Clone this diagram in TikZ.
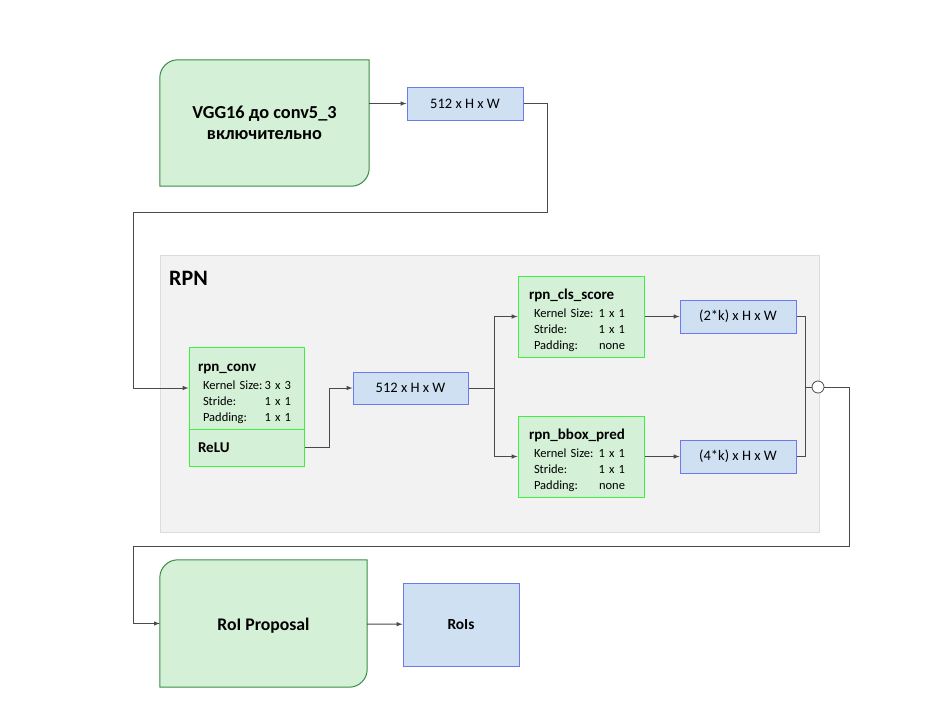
\documentclass[tikz,border=0pt]{standalone}
\usepackage{fontspec}
\setmainfont{Carlito}
\usepackage{tikz}
\usepackage{xcolor}
\usetikzlibrary{calc,backgrounds}

\definecolor{boxgreen}{HTML}{D4F0D6}
\definecolor{darkgreen}{HTML}{3C8A48}
\definecolor{brightgreen}{HTML}{40F040}
\definecolor{boxblue}{HTML}{CFE0F3}
\definecolor{blueline}{HTML}{6E78F0}
\definecolor{linegray}{HTML}{4A4A4A}
\definecolor{rpnfill}{HTML}{F2F2F2}
\definecolor{rpnline}{HTML}{DCDCDC}

% строка параметров слоя
\newcommand{\param}[3][62pt]{\hspace*{5pt}\makebox[#1][l]{#2}\makebox[26pt][r]{#3}}
\newcommand{\ltitle}[1]{{\fontsize{15}{16}\selectfont\bfseries\rule{0pt}{19pt}#1}}

\begin{document}
\begin{tikzpicture}[
		x=1pt,y=-1pt,
		line/.style={draw=linegray,line width=1pt},
		arrow/.style={line,->,>=latex},
		fmap/.style={draw=blueline,fill=boxblue,line width=1pt,minimum width=116pt,minimum height=33pt,font=\fontsize{14.5}{16}\selectfont},
		layer/.style={draw=brightgreen,fill=boxgreen,line width=1pt,align=left,minimum width=115pt,text width=97pt,inner xsep=9pt,font=\fontsize{12.5}{16}\selectfont},
		stage/.style={inner sep=0pt,align=center,font=\fontsize{18.3}{21}\selectfont\bfseries},
		stageline/.style={draw=darkgreen,fill=boxgreen,line width=1pt}
	]
		\useasboundingbox (0,0) rectangle (947,710);

		% RPN
		\node[draw=rpnline,fill=rpnfill,line width=1pt,minimum width=659pt,minimum height=277pt] (rpn) at (489.5,393.5) {};
		\node[anchor=west,inner sep=0pt,font=\fontsize{22}{24}\selectfont\bfseries] (rpnlabel) at (169,278) {RPN};

		% VGG16
		\node[stage,minimum width=209pt,minimum height=126pt] (vgg) at (264.5,123) {VGG16 до conv5\_3\\включительно};
		\node[fmap] (fmap1) at (465,103.5) {512 x H x W};

		% rpn_conv + ReLU
		\node[layer,minimum height=82pt] (conv) at (246.5,388) {\ltitle{rpn\_conv}\\[2pt]
			\param{Kernel Size:}{3 x 3}\\ \param{Stride:}{1 x 1}\\ \param{Padding:}{1 x 1}};
		\node[layer,minimum height=37pt] (relu) at (246.5,447.5) {{\fontsize{15}{16}\selectfont\bfseries ReLU}};
		\node[fmap,minimum width=115pt,minimum height=32pt] (fmap2) at (410.5,388) {512 x H x W};

		% две ветки
		\node[layer,minimum width=126pt,text width=104pt,inner xsep=11pt,minimum height=81pt] (cls) at (581,316.5) {\ltitle{rpn\_cls\_score}\\[2pt]
			\param[65pt]{Kernel Size:}{1 x 1}\\ \param[65pt]{Stride:}{1 x 1}\\ \param[65pt]{Padding:}{none}};
		\node[layer,minimum width=126pt,text width=104pt,inner xsep=11pt,minimum height=81pt] (bbox) at (581,456.5) {\ltitle{rpn\_bbox\_pred}\\[2pt]
			\param[65pt]{Kernel Size:}{1 x 1}\\ \param[65pt]{Stride:}{1 x 1}\\ \param[65pt]{Padding:}{none}};
		\node[fmap] (out2k) at (738,316.5) {(2*k) x H x W};
		\node[fmap] (out4k) at (738,456.5) {(4*k) x H x W};
		\node[circle,draw=linegray,fill=white,line width=0.8pt,minimum size=12pt,inner sep=0pt] (join) at (818,387) {};

		% RoI Proposal
		\node[stage,minimum width=207pt,minimum height=127pt,font=\fontsize{17.7}{20}\selectfont\bfseries] (roiprop) at (263.5,623.5) {\rule{0pt}{17pt}RoI Proposal};
		\node[fmap,minimum height=83pt,font=\fontsize{15.4}{17}\selectfont\bfseries] (rois) at (461,624.5) {RoIs};

		% закругления
		\begin{scope}[on background layer]
			\draw[stageline] (vgg.south west) -- ($(vgg.north west)+(0,18)$) arc[start angle=180,end angle=90,radius=18pt] -- (vgg.north east) -- ($(vgg.south east)+(0,-18)$) arc[start angle=0,end angle=-90,radius=18pt] -- cycle;
			\draw[stageline] (roiprop.south west) -- ($(roiprop.north west)+(0,18)$) arc[start angle=180,end angle=90,radius=18pt] -- (roiprop.north east) -- ($(roiprop.south east)+(0,-18)$) arc[start angle=0,end angle=-90,radius=18pt] -- cycle;
		\end{scope}

		% точки изгиба
		\coordinate (b1) at (547,212);
		\coordinate (b2) at (133,212);
		\coordinate (split) at (494,388);
		\coordinate (merge) at (805,387);
		\coordinate (b3) at (849,546);
		\coordinate (b4) at (133,546);

		% связи
		\draw[arrow] (vgg.east |- fmap1) -- (fmap1);
		\draw[arrow] (fmap1.east) -| (b1) -- (b2) |- (conv.west);
		\draw[arrow] (relu.east) -- ++(25,0) |- (fmap2.west);
		\draw[line] (fmap2.east) -- (split);
		\draw[arrow] (split) |- (cls.west);
		\draw[arrow] (split) |- (bbox.west);
		\draw[arrow] (cls) -- (out2k);
		\draw[arrow] (bbox) -- (out4k);
		\draw[line] (out2k.east) -| (merge) |- (out4k.east);
		\draw[line] (merge) -- (join);
		\draw[arrow] (join.east) -| (b3) -- (b4) |- (roiprop.west);
		\draw[arrow] (roiprop) -- (rois);
	\end{tikzpicture}
\end{document}
